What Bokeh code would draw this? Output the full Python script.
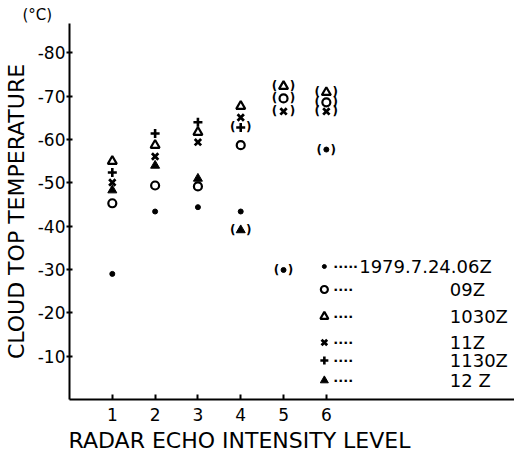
import math
from bokeh.plotting import figure
from bokeh.models import Range1d, FixedTicker, ColumnDataSource
from bokeh.core.properties import value
from bokeh.embed import file_html
from bokeh.resources import INLINE

NAN = float("nan")

# ---- data ----
levels = [1, 2, 3, 4, 5, 6]
x_tick_labels = ["1", "2", "3", "4", "5", "6"]
y_ticks = [-80, -70, -60, -50, -40, -30, -20, -10]
y_tick_labels = ["-80", "-70", "-60", "-50", "-40", "-30", "-20", "-10"]

series_names = ["1979.7.24.06Z", "09Z", "1030Z", "11Z", "1130Z", "12 Z"]
t_06z = [-29.0, -43.4, -44.4, -43.4, -29.9, -57.7]
t_09z = [-45.3, -49.4, -49.2, -58.7, -69.5, -68.6]
t_1030z = [-55.0, -58.7, -61.7, -67.7, -72.3, -70.9]
t_11z = [-50.1, -56.1, -59.4, -65.1, -66.5, -66.5]
t_1130z = [-52.4, -61.4, -64.0, -62.8, NAN, NAN]
t_12z = [-48.3, -54.0, -51.0, -39.1, NAN, NAN]

# values shown in parentheses
br_06z = [0, 0, 0, 0, 1, 1]
br_09z = [0, 0, 0, 0, 1, 1]
br_1030z = [0, 0, 0, 0, 1, 1]
br_11z = [0, 0, 0, 0, 1, 1]
br_1130z = [0, 0, 0, 1, 0, 0]
br_12z = [0, 0, 0, 1, 0, 0]

X_TITLE = "RADAR ECHO INTENSITY LEVEL"
Y_TITLE = "CLOUD TOP TEMPERATURE"
UNIT = "(°C)"

# ---- styles ----
FONT = "DejaVu Sans"
styles = [
    dict(marker="circle", size=5, fill_color="black", line_color="black", line_width=1, br_off=7),
    dict(marker="circle", size=8, fill_color=None, line_color="black", line_width=2.2, br_off=9),
    dict(marker="triangle", size=9, fill_color=None, line_color="black", line_width=2.2, br_off=9),
    dict(marker="x", size=9, fill_color=None, line_color="black", line_width=2.8, br_off=9),
    dict(marker="cross", size=9, fill_color=None, line_color="black", line_width=2.6, br_off=8),
    dict(marker="triangle", size=9, fill_color="black", line_color="black", line_width=1, br_off=8),
]
all_series = [t_06z, t_09z, t_1030z, t_11z, t_1130z, t_12z]
all_br = [br_06z, br_09z, br_1030z, br_11z, br_1130z, br_12z]

# ---- layout ----
W, H = 514, 466
B_LEFT, B_BOTTOM, B_TOP = 67, 67, 23
FRAME_W = W - B_LEFT
FRAME_H = H - B_BOTTOM - B_TOP
PX_X = 43.0           # pixels per intensity level
Y_END = -86.8
PX_Y = FRAME_H / abs(Y_END)
X_TITLE_PAD = "\u00a0" * 15   # shifts the centred x title to the left

p = figure(width=W, height=H, output_backend="svg", toolbar_location=None,
           x_range=Range1d(0, FRAME_W / PX_X), y_range=Range1d(0, Y_END),
           min_border_left=B_LEFT, min_border_right=0, min_border_top=B_TOP,
           min_border_bottom=B_BOTTOM, title=UNIT)
p.outline_line_color = None
p.xgrid.visible = False
p.ygrid.visible = False
p.background_fill_color = "white"
p.border_fill_color = "white"

p.title.text_font = FONT
p.title.text_font_size = "15px"
p.title.text_font_style = "normal"
p.title.text_color = "black"
p.title.align = "left"
p.title.offset = -47
p.title.standoff = 0

for ax in (p.xaxis, p.yaxis):
    ax.axis_line_width = 2
    ax.axis_line_color = "black"
    ax.major_tick_line_width = 2
    ax.major_tick_line_color = "black"
    ax.minor_tick_line_color = None
    ax.major_label_text_font = FONT
    ax.major_label_text_font_size = "17px"
    ax.major_label_text_color = "black"
    ax.axis_label_text_font = FONT
    ax.axis_label_text_font_size = "22px"
    ax.axis_label_text_font_style = "normal"
    ax.axis_label_text_color = "black"

p.xaxis.ticker = FixedTicker(ticks=levels)
p.xaxis.major_label_overrides = {lv: lab for lv, lab in zip(levels, x_tick_labels)}
p.xaxis.major_tick_in = 5
p.xaxis.major_tick_out = 0
p.xaxis.major_label_standoff = 8
p.xaxis.axis_label = X_TITLE + X_TITLE_PAD
p.xaxis.axis_label_standoff = 4

p.yaxis.ticker = FixedTicker(ticks=y_ticks)
p.yaxis.major_label_overrides = {t: lab for t, lab in zip(y_ticks, y_tick_labels)}
p.yaxis.major_tick_in = 3
p.yaxis.major_tick_out = 3
p.yaxis.major_label_standoff = 1
p.yaxis.axis_label = Y_TITLE
p.yaxis.axis_label_standoff = 6

# ---- data points ----
for vals, brs, st in zip(all_series, all_br, styles):
    xs = [lv for lv, v in zip(levels, vals) if not math.isnan(v)]
    ys = [v for v in vals if not math.isnan(v)]
    src = ColumnDataSource(dict(x=xs, y=ys))
    p.scatter("x", "y", source=src, marker=st["marker"], size=st["size"],
              fill_color=st["fill_color"], line_color=st["line_color"],
              line_width=st["line_width"])
    bx = [lv for lv, v, b in zip(levels, vals, brs) if b and not math.isnan(v)]
    by = [v for v, b in zip(vals, brs) if b and not math.isnan(v)]
    if bx:
        bsrc = ColumnDataSource(dict(x=bx, y=by))
        for txt, off in (("(", -st["br_off"]), (")", st["br_off"])):
            p.text("x", "y", source=bsrc, text=value(txt), x_offset=off,
                   text_align="center", text_baseline="middle",
                   text_font=value(FONT), text_font_size="12px",
                   text_font_style="bold", text_color="black")

# ---- legend (custom, drawn in the plot area) ----
LEG_MARK_PX = 256          # marker position, px right of y axis
LEG_DOTS_PX = 265
LEG_TEXT_PX = [291, 382, 382, 382, 382, 382]
LEG_ROW_PX = [133, 110, 83, 57, 39, 19]   # px above x axis
leaders = ["·····", "····", "····", "····", "····", "····"]

for i, (name, st) in enumerate(zip(series_names, styles)):
    ly = -LEG_ROW_PX[i] / PX_Y
    p.scatter([LEG_MARK_PX / PX_X], [ly], marker=st["marker"], size=st["size"] - 1,
              fill_color=st["fill_color"], line_color=st["line_color"],
              line_width=st["line_width"])
    p.text([LEG_DOTS_PX / PX_X], [ly], text=[leaders[i]], text_align="left",
           text_baseline="middle", text_font=value(FONT), text_font_size="13px",
           text_font_style="bold", text_color="black")
    p.text([LEG_TEXT_PX[i] / PX_X], [ly], text=[name], text_align="left",
           text_baseline="middle", text_font=value(FONT), text_font_size="18px",
           text_color="black")

open("out.html", "w").write(file_html(p, INLINE))
